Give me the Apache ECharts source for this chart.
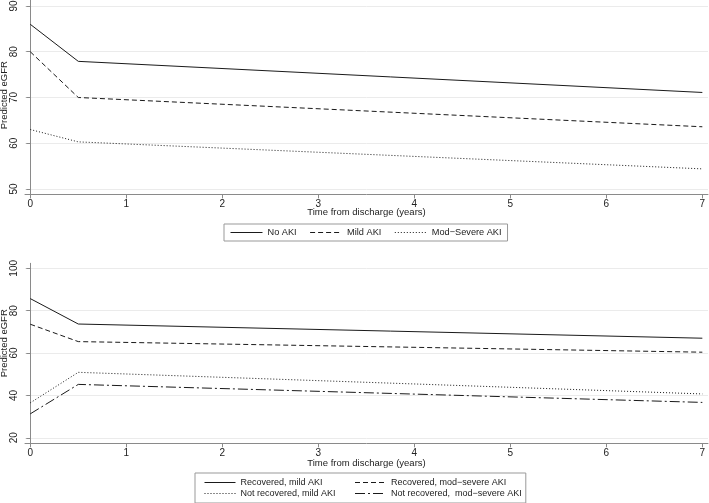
<!DOCTYPE html>
<html>
<head>
<meta charset="utf-8">
<script src="https://cdn.jsdelivr.net/npm/echarts@6/dist/echarts.min.js"></script>
<style>
html,body{margin:0;padding:0;background:#fff;}
#chart{width:709px;height:503px;}
</style>
</head>
<body>
<div id="chart"></div>
<script>
// ---- data ----
const years = [0, 0.5, 7];
const xTicks = [0, 1, 2, 3, 4, 5, 6, 7];
const topYTicks = [50, 60, 70, 80, 90];
const bottomYTicks = [20, 40, 60, 80, 100];

const topNames = ['No AKI', 'Mild AKI', 'Mod\u2212Severe AKI'];
const noAKI = [86.0, 77.9, 71.1];
const mildAKI = [80.0, 70.0, 63.6];
const modSevereAKI = [63.0, 60.3, 54.4];

const bottomNames = ['Recovered, mild AKI', 'Recovered, mod\u2212severe AKI',
                     'Not recovered, mild AKI', 'Not recovered,  mod\u2212severe AKI'];
const recMild = [85.7, 73.7, 67.0];
const recModSevere = [73.6, 65.4, 60.4];
const notRecMild = [36.5, 50.9, 40.7];
const notRecModSevere = [31.3, 45.2, 36.7];

const xTitle = 'Time from discharge (years)';
const yTitle = 'Predicted eGFR';

// ---- styles ----
const FONT = '"Liberation Sans", Arial, Helvetica, sans-serif';
const AXIS_COLOR = '#8a8a8a';
const TEXT_COLOR = '#222';
const LINE_COLOR = '#1a1a1a';
const dashStyles = ['solid', [5, 3], [1, 2], [10, 3, 2, 3]];

function pairs(vals) { return years.map((x, i) => [x, vals[i]]); }

function xAxisCfg(gridIndex, gap) {
  return {
    type: 'value', gridIndex: gridIndex,
    min: -0.055, max: 7.059,
    name: xTitle, nameLocation: 'middle', nameGap: gap, nameMoveOverlap: false,
    nameTextStyle: { fontFamily: FONT, fontSize: 9.5, color: TEXT_COLOR },
    axisLine: { show: true, lineStyle: { color: AXIS_COLOR, width: 1 } },
    axisTick: { show: true, length: 4, customValues: xTicks, lineStyle: { color: AXIS_COLOR } },
    axisLabel: { customValues: xTicks, margin: 5, fontFamily: FONT, fontSize: 10, color: TEXT_COLOR },
    splitLine: { show: false }
  };
}
function yAxisCfg(gridIndex, min, max, ticks, namePad) {
  return {
    type: 'value', gridIndex: gridIndex,
    min: min, max: max,
    name: yTitle, nameLocation: 'middle', nameGap: 16, nameMoveOverlap: false,
    nameTextStyle: { fontFamily: FONT, fontSize: 9.5, color: TEXT_COLOR, padding: namePad },
    axisLine: { show: true, lineStyle: { color: AXIS_COLOR, width: 1 } },
    axisTick: { show: true, length: 4, customValues: ticks, lineStyle: { color: AXIS_COLOR } },
    axisLabel: { customValues: ticks, rotate: 90, margin: 6, fontFamily: FONT, fontSize: 10, color: TEXT_COLOR },
    splitLine: { show: true, lineStyle: { color: '#ebebeb', width: 1 } }
  };
}
function lineSeries(name, vals, idx, styleIdx) {
  return {
    type: 'line', name: name, data: pairs(vals),
    xAxisIndex: idx, yAxisIndex: idx,
    symbol: 'none', silent: true,
    lineStyle: { color: LINE_COLOR, width: 1, type: dashStyles[styleIdx] },
    itemStyle: { color: LINE_COLOR }
  };
}
const hiddenSymbol = { color: 'rgba(0,0,0,0)', borderWidth: 0, opacity: 0 };

const chart = echarts.init(document.getElementById('chart'), null, { renderer: 'canvas' });
chart.setOption({
  animation: false,
  backgroundColor: '#fff',
  grid: [
    { left: 25, top: 0, width: 683, height: 194.4, outerBoundsMode: 'none', containLabel: false },
    { left: 25, top: 263.3, width: 683, height: 180, outerBoundsMode: 'none', containLabel: false }
  ],
  xAxis: [xAxisCfg(0, 13), xAxisCfg(1, 15)],
  yAxis: [
    yAxisCfg(0, 48.82, 91.31, topYTicks, [0, 0, 0, 4]),
    yAxisCfg(1, 17.4, 102.36, bottomYTicks, [0, 0, 0, 20])
  ],
  legend: [
    {
      data: topNames, left: 224, top: 224, orient: 'horizontal',
      itemWidth: 32, itemHeight: 10, itemGap: 13,
      padding: [3, 6, 3, 6],
      borderColor: '#999', borderWidth: 1, borderRadius: 0,
      itemStyle: hiddenSymbol,
      lineStyle: { width: 1 },
      textStyle: { fontFamily: FONT, fontSize: 9.2, color: TEXT_COLOR, lineHeight: 11 },
      selectedMode: false
    },
    {
      data: bottomNames, left: 195, top: 473, orient: 'horizontal', width: 330,
      itemWidth: 31, itemHeight: 10, itemGap: 0,
      padding: [4, 4, 4, 9],
      borderColor: '#999', borderWidth: 1, borderRadius: 0,
      itemStyle: hiddenSymbol,
      lineStyle: { width: 1 },
      textStyle: { fontFamily: FONT, fontSize: 9, color: TEXT_COLOR, lineHeight: 11, width: 114, overflow: 'none' },
      selectedMode: false
    }
  ],
  series: [
    lineSeries(topNames[0], noAKI, 0, 0),
    lineSeries(topNames[1], mildAKI, 0, 1),
    lineSeries(topNames[2], modSevereAKI, 0, 2),
    lineSeries(bottomNames[0], recMild, 1, 0),
    lineSeries(bottomNames[1], recModSevere, 1, 1),
    lineSeries(bottomNames[2], notRecMild, 1, 2),
    lineSeries(bottomNames[3], notRecModSevere, 1, 3)
  ]
});
</script>
</body>
</html>
